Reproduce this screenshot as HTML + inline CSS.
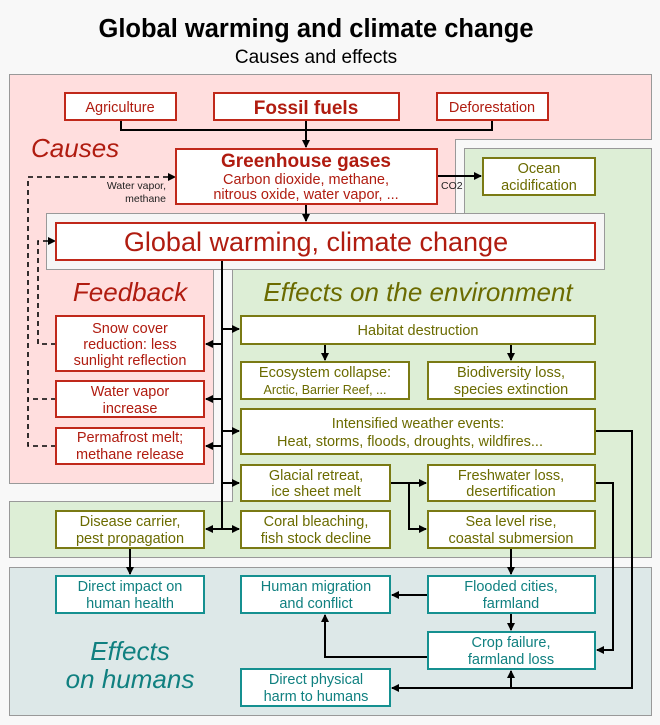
<!DOCTYPE html>
<html><head><meta charset="utf-8"><style>
html,body{margin:0;padding:0;background:#f8f8f8}
svg{display:block;font-family:"Liberation Sans",sans-serif}
</style></head><body>
<svg width="660" height="725" viewBox="0 0 660 725">
<defs>
<marker id="ah" markerWidth="8" markerHeight="8" refX="7" refY="4" orient="auto" markerUnits="userSpaceOnUse"><path d="M0,0 L8,4 L0,8 z" fill="#000"/></marker>
</defs>
<rect width="660" height="725" fill="#f8f8f8"/>
<text x="316" y="37" text-anchor="middle" font-size="25.5" font-weight="bold" fill="#000">Global warming and climate change</text>
<text x="316" y="63" text-anchor="middle" font-size="19" fill="#000">Causes and effects</text>

<polygon points="9.5,74.5 651.5,74.5 651.5,139.5 455.5,139.5 455.5,269.5 213.5,269.5 213.5,483.5 9.5,483.5" fill="#ffdede" stroke="#999"/>
<polygon points="464.5,148.5 651.5,148.5 651.5,557.5 9.5,557.5 9.5,501.5 232.5,501.5 232.5,269.5 464.5,269.5" fill="#ddeed6" stroke="#999"/>
<rect x="9.5" y="567.5" width="642" height="148" fill="#dde8e8" stroke="#999"/>
<rect x="46.5" y="213.5" width="558" height="56" fill="#f6f6f6" stroke="#999"/>

<g font-style="italic" font-size="26">
<text x="31" y="157" fill="#b01c10">Causes</text>
<text x="130" y="301" text-anchor="middle" fill="#b01c10">Feedback</text>
<text x="418" y="301" text-anchor="middle" fill="#6b6b00">Effects on the environment</text>
<text x="130" y="660" text-anchor="middle" fill="#108080">Effects</text>
<text x="130" y="688" text-anchor="middle" fill="#108080">on humans</text>
</g>

<!-- arrows -->
<g stroke="#000" stroke-width="2" fill="none">
<path d="M121,120 V130 H492 V120"/>
<path d="M306,120 V147" marker-end="url(#ah)"/>
<path d="M306,204 V221" marker-end="url(#ah)"/>
<path d="M437,176 H481" marker-end="url(#ah)"/>
<path d="M222,260 V529"/>
<path d="M222,344 H206" marker-end="url(#ah)"/>
<path d="M222,399 H206" marker-end="url(#ah)"/>
<path d="M222,446 H206" marker-end="url(#ah)"/>
<path d="M222,529 H206" marker-end="url(#ah)"/>
<path d="M222,329 H239" marker-end="url(#ah)"/>
<path d="M222,431 H239" marker-end="url(#ah)"/>
<path d="M222,483 H239" marker-end="url(#ah)"/>
<path d="M222,529 H239" marker-end="url(#ah)"/>
<path d="M325,344 V360" marker-end="url(#ah)"/>
<path d="M511,344 V360" marker-end="url(#ah)"/>
<path d="M390,483 H426" marker-end="url(#ah)"/>
<path d="M409,483 V529 H426" marker-end="url(#ah)"/>
<path d="M595,431 H632 V688 H392" marker-end="url(#ah)"/>
<path d="M511,688 V671" marker-end="url(#ah)"/>
<path d="M595,483 H613 V650 H597" marker-end="url(#ah)"/>
<path d="M511,548 V574" marker-end="url(#ah)"/>
<path d="M428,595 H392" marker-end="url(#ah)"/>
<path d="M511,613 V630" marker-end="url(#ah)"/>
<path d="M428,657 H325 V615" marker-end="url(#ah)"/>
<path d="M130,548 V574" marker-end="url(#ah)"/>
</g>
<g stroke="#000" stroke-width="1.6" fill="none" stroke-dasharray="5,4">
<path d="M56,446 H28 V177 H168"/>
<path d="M56,399 H28"/>
<path d="M56,344 H38 V241 H48"/>
</g>
<path d="M168,173 L176,177 L168,181z M48,237 L56,241 L48,245z" fill="#000"/>
<text x="166" y="189" text-anchor="end" font-size="10.5" fill="#222">Water vapor,</text>
<text x="166" y="202" text-anchor="end" font-size="10.5" fill="#222">methane</text>
<text x="441" y="189" font-size="10.5" fill="#222">CO2</text>

<!-- boxes -->
<g stroke-width="2" fill="#fff">
<g stroke="#c0281a">
<rect x="65" y="93" width="111" height="27"/>
<rect x="214" y="93" width="185" height="27"/>
<rect x="437" y="93" width="111" height="27"/>
<rect x="176" y="149" width="261" height="55"/>
<rect x="56" y="223" width="539" height="37"/>
<rect x="56" y="316" width="148" height="55"/>
<rect x="56" y="381" width="148" height="36"/>
<rect x="56" y="428" width="148" height="36"/>
</g>
<g stroke="#7a7a14">
<rect x="483" y="158" width="112" height="37"/>
<rect x="241" y="316" width="354" height="28"/>
<rect x="241" y="362" width="168" height="37"/>
<rect x="428" y="362" width="167" height="37"/>
<rect x="241" y="409" width="354" height="45"/>
<rect x="241" y="465" width="149" height="36"/>
<rect x="428" y="465" width="167" height="36"/>
<rect x="56" y="511" width="148" height="37"/>
<rect x="241" y="511" width="149" height="37"/>
<rect x="428" y="511" width="167" height="37"/>
</g>
<g stroke="#159090">
<rect x="56" y="576" width="148" height="37"/>
<rect x="241" y="576" width="149" height="37"/>
<rect x="428" y="576" width="167" height="37"/>
<rect x="428" y="632" width="167" height="37"/>
<rect x="241" y="669" width="149" height="37"/>
</g>
</g>

<g text-anchor="middle" font-size="14.5" fill="#b01c10">
<text x="120" y="112">Agriculture</text>
<text x="306" y="114" font-size="19" font-weight="bold">Fossil fuels</text>
<text x="492" y="112">Deforestation</text>
<text x="306" y="167" font-size="19" font-weight="bold">Greenhouse gases</text>
<text x="306" y="184" font-size="14.5">Carbon dioxide, methane,</text>
<text x="306" y="199" font-size="14.5">nitrous oxide, water vapor, ...</text>
<text x="316" y="251" font-size="27">Global warming, climate change</text>
<text x="130" y="333">Snow cover</text>
<text x="130" y="349">reduction: less</text>
<text x="130" y="365">sunlight reflection</text>
<text x="130" y="396">Water vapor</text>
<text x="130" y="413">increase</text>
<text x="130" y="442">Permafrost melt;</text>
<text x="130" y="459">methane release</text>
</g>
<g text-anchor="middle" font-size="14.5" fill="#6b6b00">
<text x="539" y="173">Ocean</text>
<text x="539" y="190">acidification</text>
<text x="418" y="335">Habitat destruction</text>
<text x="325" y="377">Ecosystem collapse:</text>
<text x="325" y="394" font-size="12.5">Arctic, Barrier Reef, ...</text>
<text x="511" y="377">Biodiversity loss,</text>
<text x="511" y="394">species extinction</text>
<text x="418" y="428">Intensified weather events:</text>
<text x="410" y="446">Heat, storms, floods, droughts, wildfires...</text>
<text x="316" y="480">Glacial retreat,</text>
<text x="316" y="496">ice sheet melt</text>
<text x="511" y="480">Freshwater loss,</text>
<text x="511" y="496">desertification</text>
<text x="130" y="526">Disease carrier,</text>
<text x="130" y="543">pest propagation</text>
<text x="316" y="526">Coral bleaching,</text>
<text x="316" y="543">fish stock decline</text>
<text x="511" y="526">Sea level rise,</text>
<text x="511" y="543">coastal submersion</text>
</g>
<g text-anchor="middle" font-size="14.5" fill="#108080">
<text x="130" y="591">Direct impact on</text>
<text x="130" y="608">human health</text>
<text x="316" y="591">Human migration</text>
<text x="316" y="608">and conflict</text>
<text x="511" y="591">Flooded cities,</text>
<text x="511" y="608">farmland</text>
<text x="511" y="647">Crop failure,</text>
<text x="511" y="664">farmland loss</text>
<text x="316" y="684">Direct physical</text>
<text x="316" y="701">harm to humans</text>
</g>
</svg>
</body></html>
